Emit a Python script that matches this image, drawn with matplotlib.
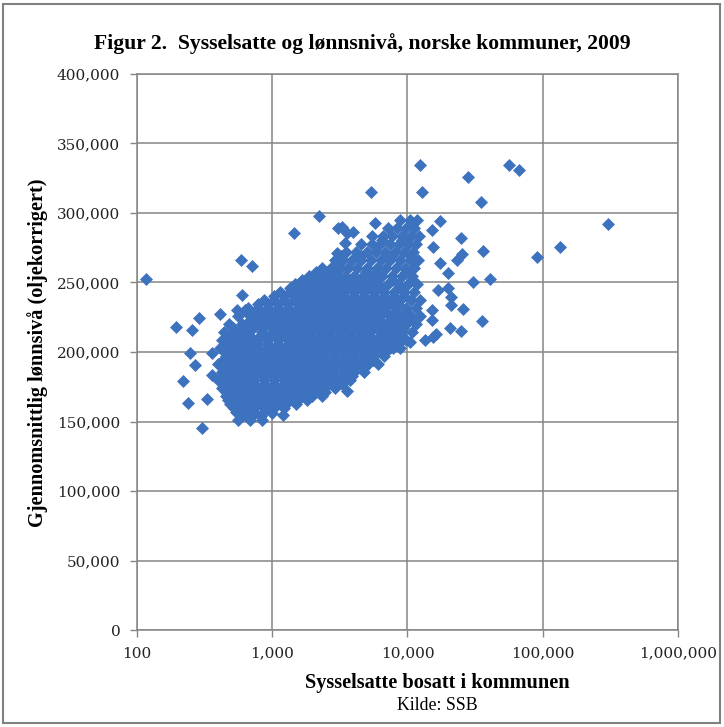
import numpy as np
import matplotlib
matplotlib.use("Agg")
import matplotlib.pyplot as plt
from matplotlib.ticker import FuncFormatter, NullLocator
from matplotlib.patches import Rectangle

# sparse municipalities around the main cloud (employed, avg wage)
sparse_emp = [117, 194, 255, 287, 246, 360, 268, 218, 360, 240, 330, 303,
              410, 550, 628, 510, 684, 585, 710, 600,
              2230, 1450, 3060, 3580, 2990, 3450, 3060, 12350, 5370, 12800,
              5740, 3300, 3930, 56000, 66500, 27900, 35000, 17350, 15100,
              24900, 15400, 36100, 25300, 23200, 17350, 19800, 30400, 40600,
              90300, 133700, 305000, 16700, 19800, 20900, 20900, 25600,
              15100, 15100, 35500, 20500, 24900, 16200, 9200, 10400, 13400,
              15400, 5270, 7800, 3300, 3580, 990, 1200]
sparse_wage = [252500, 218000, 215800, 224700, 199300, 199300, 190600, 179100,
               183400, 163300, 166200, 145300,
               227300, 230200, 230200, 217300, 221600, 266200, 261900, 241000,
               297800, 285600, 289200, 285600, 271200, 278400, 261100, 334500,
               315100, 315100, 292800, 290000, 286400, 334500, 330900, 325900,
               307900, 294200, 287800, 282000, 275500, 272700, 270500, 266200,
               264000, 256800, 250300, 252500, 268300, 275500, 292100, 244600,
               246000, 239600, 233800, 230900, 230200, 223000, 222300, 217300,
               215100, 212900, 210800, 207200, 208600, 210800, 195700, 202900,
               179900, 172000, 156100, 154700]

# dense core, one wage level per row
row_wage = [295000, 289200, 283400, 277700, 271900, 266200, 260400, 254700,
            248900, 243200, 237400, 231600, 225900, 220100, 214400, 208600,
            202900, 197100, 191400, 185600, 179900, 174100, 168300, 162600,
            156800, 151100]
row_emp = [
    [8785, 10414, 11740],
    [7175, 8350, 9730, 11160],
    [5460, 6590, 7672, 9094, 10596, 12160],
    [4527, 5460, 6251, 7410, 8648, 10083, 11540],
    [3508, 4156, 5014, 5843, 6806, 8068, 9408, 10979],
    [2907, 3337, 3888, 4527, 5366, 6360, 7410, 8785, 10414, 11953],
    [2332, 2717, 3165, 3633, 4227, 5014, 5946, 6925, 8210, 9565, 11160],
    [1870, 2181, 2540, 2958, 3446, 4015, 4689, 5559, 6470, 7672, 9094, 10780],
    [1472, 1717, 2003, 2332, 2717, 3165, 3693, 4306, 5105, 6052, 7175, 8505,
     10083, 11740],
    [1140, 1352, 1577, 1840, 2143, 2495, 2907, 3394, 4015, 4768, 5650, 6700,
     7940, 9408, 11160],
    [869, 1031, 1221, 1449, 1690, 1968, 2293, 2670, 3165, 3752, 4448, 5273,
     6251, 7410, 8785, 10596, 12346],
    [662, 786, 931, 1104, 1309, 1552, 1807, 2107, 2452, 2907, 3446, 4085,
     4843, 5741, 6806, 8210, 9730, 11540],
    [559, 708, 855, 1014, 1202, 1425, 1660, 1934, 2253, 2670, 3165, 3752,
     4448, 5273, 6251, 7540, 8938, 10596, 12346],
    [479, 597, 758, 931, 1104, 1309, 1525, 1775, 2069, 2452, 2907, 3446,
     4085, 4843, 5741, 6925, 8210, 9730, 11540],
    [440, 540, 650, 839, 1014, 1202, 1401, 1632, 1900, 2253, 2670, 3165,
     3752, 4448, 5273, 6360, 7540, 8938, 10780],
    [425, 504, 597, 708, 914, 1104, 1309, 1525, 1775, 2069, 2452, 2907,
     3446, 4085, 4843, 5843, 6925, 8210, 9730],
    [410, 479, 559, 650, 771, 914, 1084, 1263, 1449, 1660, 1934, 2253,
     2670, 3165, 3752, 4448, 5273, 6251, 7410, 8785],
    [455, 521, 609, 708, 825, 979, 1160, 1352, 1552, 1775, 2069, 2412,
     2860, 3394, 4015, 4768, 5650, 6700],
    [398, 470, 549, 639, 758, 883, 1047, 1241, 1449, 1660, 1934, 2253,
     2625, 3112, 3693, 4377, 5105, 6052],
    [425, 504, 587, 684, 811, 962, 1140, 1331, 1552, 1807, 2107, 2452,
     2860, 3394, 4015, 4768],
    [398, 463, 540, 628, 733, 869, 1031, 1221, 1425, 1660, 1934, 2253,
     2670, 3165, 3752],
    [425, 495, 577, 673, 786, 931, 1104, 1309, 1525, 1775, 2069, 2452, 2907],
    [455, 530, 618, 721, 839, 996, 1180, 1401, 1660, 1968, 2332],
    [487, 568, 662, 771, 898, 1065, 1263, 1498],
    [540, 639, 733, 869],
    [559, 684, 839],
]

# in-between rows inside the core, where the points overlap
fill_wage = [280600, 269100, 257500, 251800, 246000,
             240300, 234500, 228800, 223000, 217300, 211500, 205800, 200000,
             194200, 188500, 182700, 177000, 171200, 165500, 159700, 153900]
fill_emp = [
    [6470, 9094],
    [3220, 4527, 7540, 10596],
    [2107, 2495, 2958, 4929, 5843, 9730],
    [1660, 1968, 2332, 2764, 3276, 3888, 4605, 5460, 7672, 10780],
    [1352, 1603, 1900, 2253, 2670, 3165, 3752, 4448, 5273, 6251, 8785],
    [1031, 1221, 1449, 1717, 2036, 2412, 2860, 3394, 4015, 4768, 5650, 6700,
     7940, 9408],
    [786, 931, 1104, 1309, 1552, 1840, 2181, 2585, 3064, 3633, 4306, 5105,
     6052, 7175, 8505],
    [639, 758, 898, 1065, 1263, 1498, 1775, 2107, 2495, 2958, 3508, 4156,
     4929, 5843, 6925, 8210, 9730],
    [684, 811, 962, 1140, 1352, 1603, 1900, 2253, 2670, 3165, 3752,
     4448, 5273, 6251, 7410, 8785, 10414],
    [513, 609, 721, 855, 1014, 1202, 1425, 1690, 2003, 2375, 2815, 3337,
     3955, 4689, 5559, 6590, 7812, 9261],
    [487, 577, 684, 811, 962, 1140, 1352, 1603, 1900, 2253, 2670, 3165,
     3752, 4448, 5273, 6251, 7410, 8785],
    [470, 559, 662, 786, 931, 1104, 1309, 1552, 1840, 2181, 2585, 3064,
     3633, 4306, 5105, 6052, 7175, 8505],
    [447, 530, 628, 745, 883, 1047, 1241, 1472, 1745, 2069, 2452, 2907,
     3446, 4085, 4843, 5741, 6806],
    [432, 513, 609, 721, 855, 1014, 1202, 1425, 1690, 2003, 2375, 2815,
     3337, 3955, 4689, 5559],
    [440, 521, 618, 733, 869, 1031, 1221, 1449, 1717, 2036, 2412, 2860,
     3394, 4015, 4768],
    [432, 513, 609, 721, 855, 1014, 1202, 1425, 1690, 2003, 2375, 2815,
     3337, 3888],
    [440, 521, 618, 733, 869, 1031, 1221, 1449, 1717, 2036, 2412, 2860, 3276],
    [455, 540, 639, 758, 898, 1065, 1263, 1498, 1775, 2107, 2452],
    [470, 559, 662, 786, 931, 1104, 1309, 1552, 1807],
    [521, 618, 733, 869, 1031, 1221],
    [597, 708, 825],
]

x_ticks = [100, 1000, 10000, 100000, 1000000]
y_ticks = [0, 50000, 100000, 150000, 200000, 250000, 300000, 350000, 400000]

core_emp = [e for row in row_emp + fill_emp for e in row]
core_wage = [w for w, row in zip(row_wage + fill_wage, row_emp + fill_emp) for _ in row]
emp = np.array(sparse_emp + core_emp)
wage = np.array(sparse_wage + core_wage)

blue = '#3D72BF'
grid_col = '#858585'
serif = ['Liberation Serif', 'DejaVu Serif']

fig = plt.figure(figsize=(7.24, 7.27), dpi=100)
ax = fig.add_axes([137/724, 1-630/727, (678-137)/724, (630-74)/727])

ax.plot(emp, wage, linestyle='none', marker='D', markersize=5.8,
        color=blue, markeredgecolor=blue, markeredgewidth=0.5, zorder=3)

ax.set_xscale('log')
ax.set_xlim(100, 1000000)
ax.set_ylim(0, 400000)
ax.set_xticks(x_ticks)
ax.set_yticks(y_ticks)
ax.xaxis.set_minor_locator(NullLocator())
comma = FuncFormatter(lambda v, p: '{:,.0f}'.format(v))
ax.xaxis.set_major_formatter(comma)
ax.yaxis.set_major_formatter(comma)
ax.grid(True, color=grid_col, linewidth=1.1, zorder=0)
for s in ax.spines.values():
    s.set_color(grid_col)
    s.set_linewidth(1.1)
ax.tick_params(length=5, width=1, color=grid_col, labelsize=11, pad=7)
for lab in ax.get_xticklabels() + ax.get_yticklabels():
    lab.set_family('DejaVu Serif')
    lab.set_color('#222222')

fig.text(0.5, 1-44/727, 'Figur 2.  Sysselsatte og lønnsnivå, norske kommuner, 2009',
         ha='center', va='center', fontsize=15.6, fontweight='bold', family=serif)
fig.text(437/724, 1-683/727, 'Sysselsatte bosatt i kommunen',
         ha='center', va='center', fontsize=14.6, fontweight='bold', family=serif)
fig.text(437/724, 1-706/727, 'Kilde: SSB',
         ha='center', va='center', fontsize=12.8, family=serif)
fig.text(38/724, 1-353/727, 'Gjennomsnittlig lønnsivå (oljekorrigert)',
         ha='center', va='center', rotation=90, fontsize=14.6, fontweight='bold',
         family=serif)

fig.patches.append(Rectangle((3/724, 4/727), 717/724, 719/727, transform=fig.transFigure,
                             fill=False, edgecolor='#808080', linewidth=1.5))

fig.savefig('out.png', dpi=100)
